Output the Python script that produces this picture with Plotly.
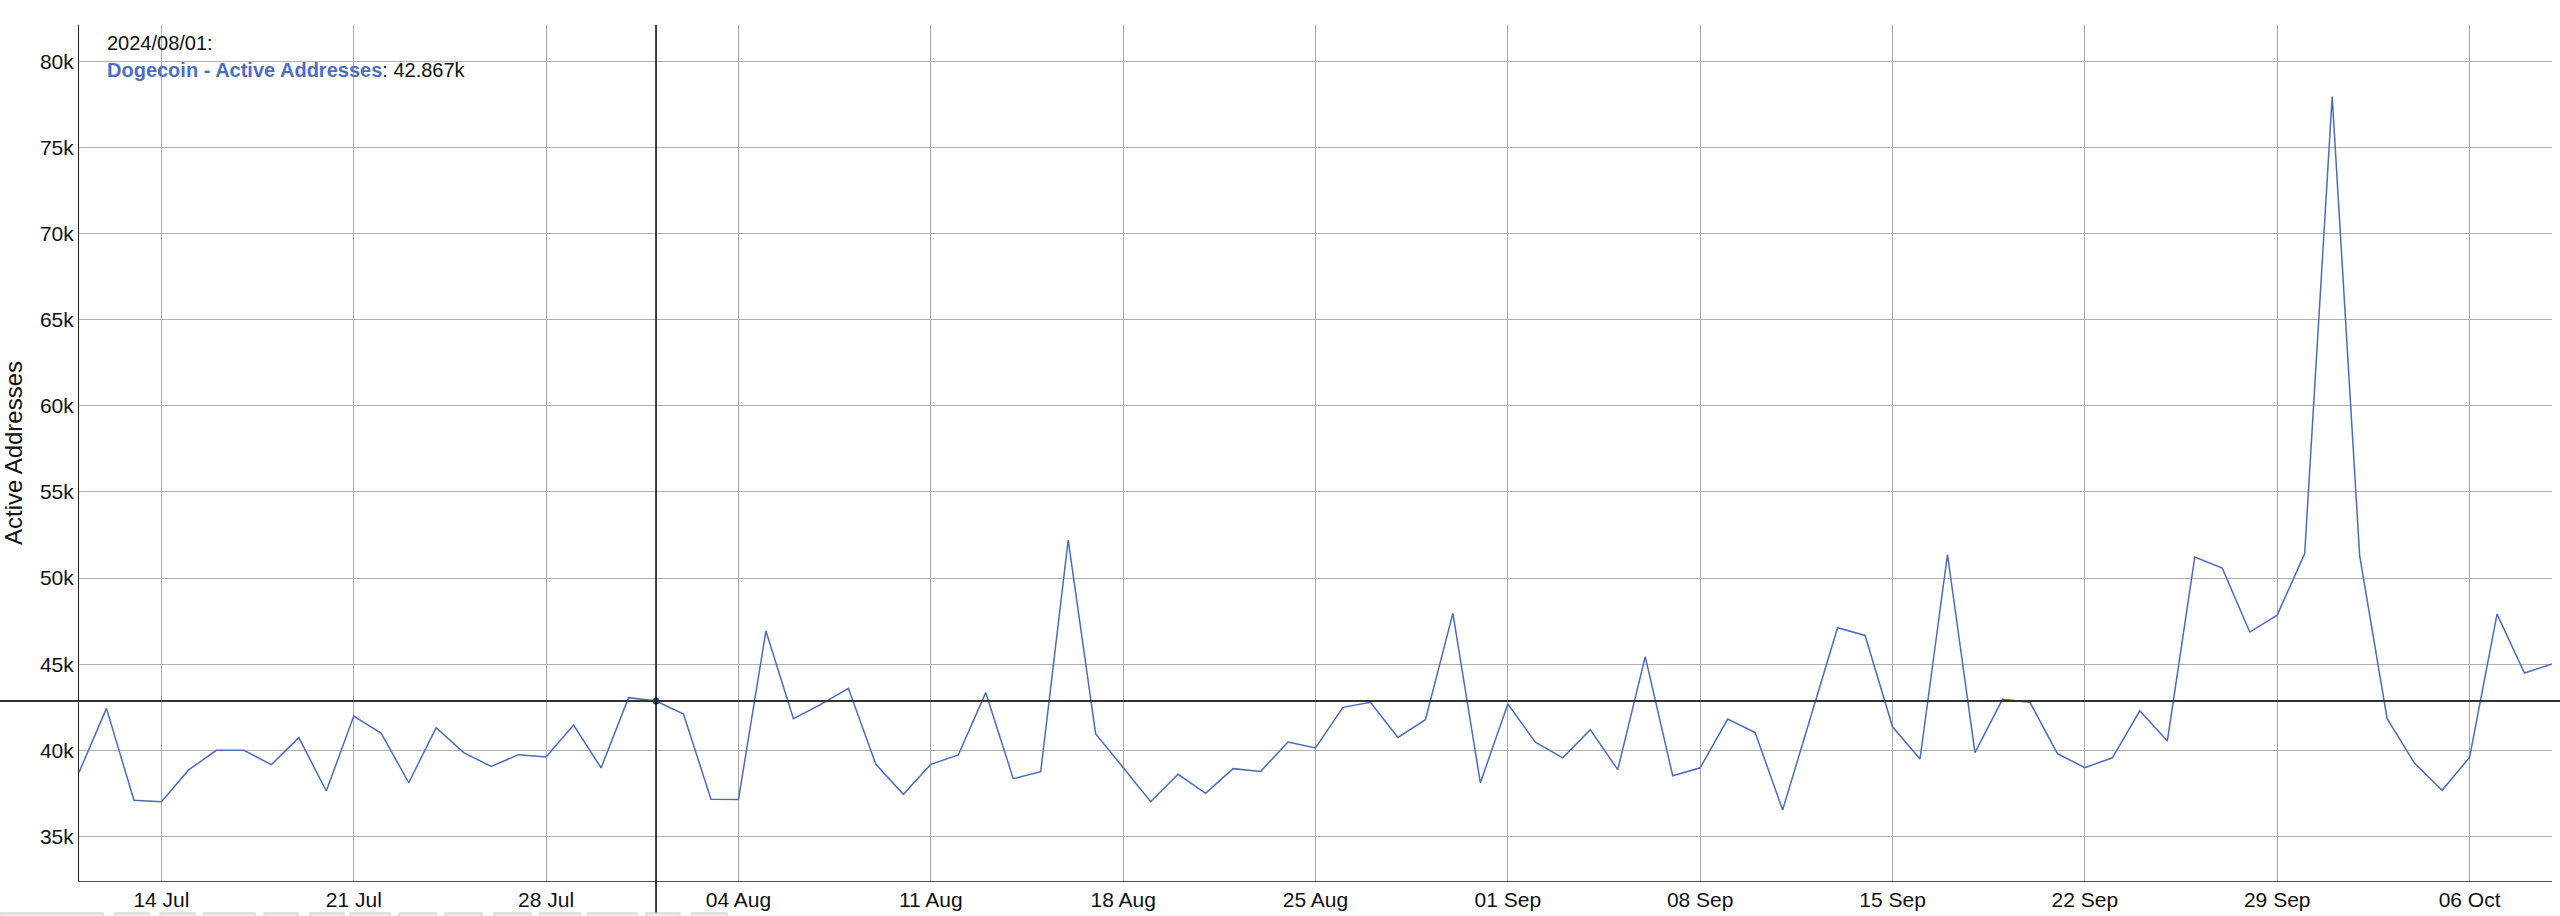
import plotly.graph_objects as go
import pandas as pd

# ---- data ----
start_date = "2024-07-11"
active_addresses = [
    # Jul 11 - Jul 31
    38720, 42440, 37100, 37020, 38880, 40000, 40000, 39170, 40740, 37640,
    41990, 40990, 38120, 41320, 39870, 39070, 39750, 39610, 41470, 38980, 43060,
    # Aug 1 - Aug 31
    42867, 42110, 37160, 37150, 46930, 41840, 42670, 43600, 39190, 37450,
    39190, 39730, 43350, 38360, 38760, 52200, 40950, 39010, 37020, 38610,
    37510, 38940, 38780, 40480, 40140, 42500, 42790, 40750, 41780, 47950, 38120,
    # Sep 1 - Sep 30
    42690, 40480, 39570, 41200, 38880, 45440, 38530, 38990, 41820, 41040,
    36540, 41840, 47120, 46670, 41370, 39500, 51370, 39870, 42960, 42790,
    39810, 39000, 39570, 42300, 40540, 51220, 50580, 46870, 47850, 51430,
    # Oct 1 - Oct 9
    77950, 51300, 41840, 39250, 37680, 39590, 47910, 44490, 45010,
]
dates = pd.date_range(start_date, periods=len(active_addresses), freq="D")

series_name = "Dogecoin - Active Addresses"
y_title = "Active Addresses"
hover_date = "2024-08-01"
hover_label = "2024/08/01:"
y_tick_vals = [35000, 40000, 45000, 50000, 55000, 60000, 65000, 70000, 75000, 80000]
y_tick_text = ["35k", "40k", "45k", "50k", "55k", "60k", "65k", "70k", "75k", "80k"]
x_tick_vals = pd.date_range("2024-07-14", "2024-10-06", freq="7D")

# ---- figure ----
W, H = 2560, 916
L, R, T, B = 79, 8, 25, 35
Y_MIN, Y_MAX = 32417, 82108
FONT = "Liberation Sans, Arial, Helvetica, sans-serif"
LINE_COLOR = "#4a6bbf"
plot_w = W - L - R
plot_h = H - T - B

hover_idx = list(dates).index(pd.Timestamp(hover_date))
hover_val = active_addresses[hover_idx]

fig = go.Figure()
fig.add_trace(go.Scatter(
    x=dates, y=active_addresses, mode="lines",
    line=dict(color=LINE_COLOR, width=1.5),
    name=series_name, showlegend=False, hoverinfo="skip",
))
fig.add_trace(go.Scatter(
    x=[dates[hover_idx]], y=[hover_val], mode="markers",
    marker=dict(color="#2c4a9a", size=7),
    showlegend=False, hoverinfo="skip", cliponaxis=False,
))

# crosshair lines
fig.add_shape(type="line", xref="x", yref="paper",
              x0=dates[hover_idx], x1=dates[hover_idx], y0=-B / plot_h, y1=1,
              line=dict(color="black", width=1.5), layer="above")
hy = (hover_val - Y_MIN) / (Y_MAX - Y_MIN)
fig.add_shape(type="line", xref="paper", yref="paper",
              x0=-L / plot_w, x1=1 + R / plot_w, y0=hy, y1=hy,
              line=dict(color="#333333", width=2), layer="above")

# partially visible navigator buttons at the very bottom of the page
nav_buttons_px = [(0, 103), (115, 149), (160, 195), (204, 255), (264, 298), (310, 344),
                  (350, 390), (399, 436), (445, 482), (494, 531), (540, 580), (588, 637),
                  (646, 680), (692, 727)]
for a, b in nav_buttons_px:
    fig.add_shape(type="rect", xref="paper", yref="paper",
                  x0=(a - L) / plot_w, x1=(b - L) / plot_w,
                  y0=-(B + 2) / plot_h, y1=-(B - 3) / plot_h,
                  line=dict(color="#c8c8c8", width=1), fillcolor="#eeeeee", layer="above")

# tooltip-like text
fig.add_annotation(xref="paper", yref="paper",
                   x=(105 - L) / plot_w, y=1 - (43 - T) / plot_h,
                   xanchor="left", yanchor="middle", showarrow=False,
                   text=hover_label, font=dict(family=FONT, size=20, color="#111"))
fig.add_annotation(xref="paper", yref="paper",
                   x=(105 - L) / plot_w, y=1 - (70 - T) / plot_h,
                   xanchor="left", yanchor="middle", showarrow=False,
                   text=f"<b><span style='color:#4a6fc4'>{series_name}</span></b>: {hover_val/1000:.3f}k",
                   font=dict(family=FONT, size=20, color="#111"))

fig.update_layout(
    width=W, height=H,
    margin=dict(l=L, r=R, t=T, b=B, pad=0, autoexpand=False),
    paper_bgcolor="white", plot_bgcolor="white",
    font=dict(family=FONT, size=21, color="#111"),
    showlegend=False,
    xaxis=dict(
        range=[dates[0], dates[-1]], automargin=False,
        tickvals=list(x_tick_vals), tickformat="%d %b",
        showgrid=True, gridcolor="#a8a8a8", gridwidth=1,
        showline=True, linecolor="#555555", linewidth=1,
        ticks="", tickfont=dict(size=21), zeroline=False,
    ),
    yaxis=dict(
        range=[Y_MIN, Y_MAX], automargin=False,
        tickvals=y_tick_vals, ticktext=y_tick_text,
        showgrid=True, gridcolor="#b0b0b0", gridwidth=1.3,
        showline=True, linecolor="#222222", linewidth=1,
        ticks="", tickfont=dict(size=21), zeroline=False,
        title=dict(text=y_title, font=dict(size=24), standoff=10),
    ),
)

fig.write_html(
    "out.html",
    config={"displayModeBar": False},
    post_script="document.body.style.margin='0';document.body.style.overflow='hidden';",
)
